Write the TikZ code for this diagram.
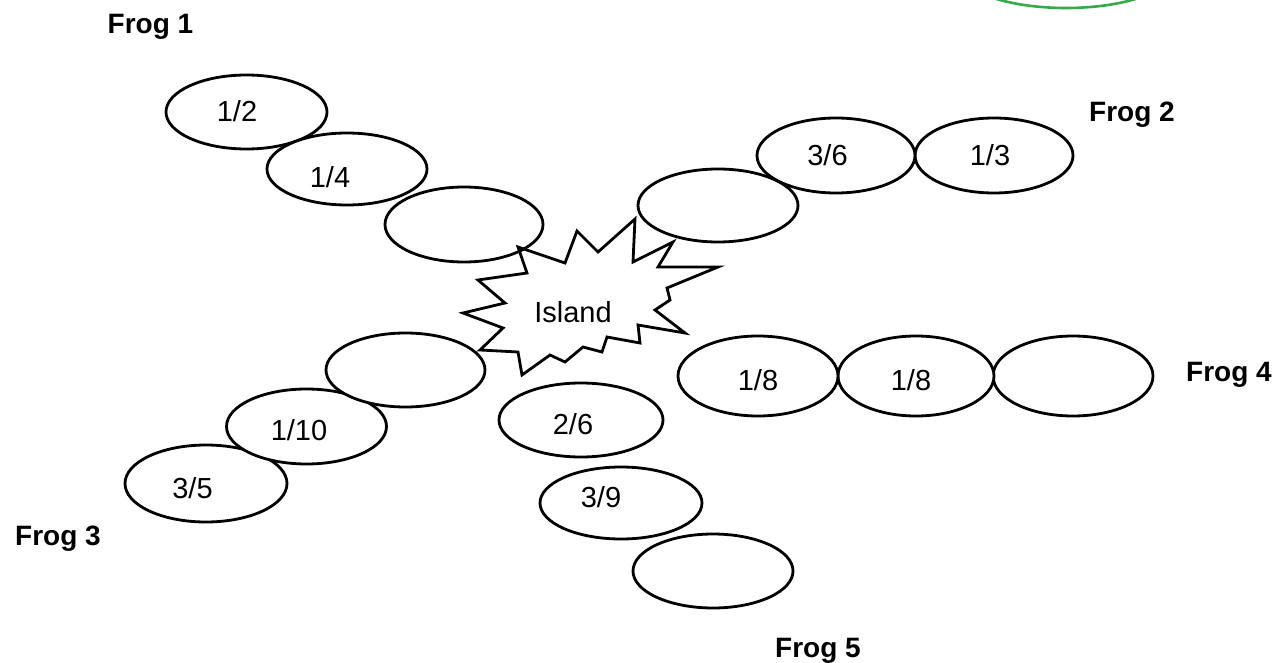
\documentclass[tikz,border=0pt]{standalone}
\usepackage{fontspec}
\setmainfont{Liberation Sans}
\usetikzlibrary{shapes.geometric}
\definecolor{arcgreen}{RGB}{52,170,72}
\tikzset{
  pad/.style={ellipse, draw=black, fill=white, line width=2.8pt, inner sep=0pt},
  frac/.style={anchor=base, inner sep=0pt, font=\fontsize{29}{34}\selectfont},
  froglbl/.style={anchor=base, inner sep=0pt, font=\fontsize{28}{34}\selectfont\bfseries},
}
\begin{document}
\begin{tikzpicture}[x=1pt,y=-1pt]
\useasboundingbox (0,0) rectangle (1284,663);
\clip (0,0) rectangle (1284,663);
\fill[white] (0,0) rectangle (1284,663);
% green arc at top
\draw[arcgreen, line width=2.6pt] (1066,-32) ellipse [x radius=110, y radius=40];
% Frog 1 chain
\node[pad, minimum width=161pt, minimum height=74pt] (e12) at (246.5,112) {};
\node[pad, minimum width=160pt, minimum height=72pt] (e14) at (347,169) {};
\node[pad, minimum width=158pt, minimum height=75pt] (e1e) at (464,224.5) {};
% Frog 2 chain
\node[pad, minimum width=158pt, minimum height=75pt] (e13) at (994,155.5) {};
\node[pad, minimum width=158pt, minimum height=75pt] (e36) at (836,155.5) {};
\node[pad, minimum width=160pt, minimum height=73pt] (e2e) at (718,205.5) {};
% Frog 4 chain
\node[pad, minimum width=160pt, minimum height=80pt] (e4e) at (1073,376) {};
\node[pad, minimum width=156pt, minimum height=80pt] (e8b) at (916,376) {};
\node[pad, minimum width=160pt, minimum height=80pt] (e8a) at (758,376) {};
% Frog 3 chain
\node[pad, minimum width=162pt, minimum height=77pt] (e35) at (206,483.5) {};
\node[pad, minimum width=160pt, minimum height=75pt] (e110) at (306.5,426.5) {};
\node[pad, minimum width=159pt, minimum height=74pt] (e3e) at (405.5,370) {};
% Frog 5 chain
\node[pad, minimum width=160pt, minimum height=74pt] (e5e) at (713,571) {};
\node[pad, minimum width=162pt, minimum height=72pt] (e39) at (621,503) {};
\node[pad, minimum width=164pt, minimum height=74pt] (e26) at (581,420) {};
% island star
\draw[line width=2.8pt, line join=miter]
  (518,247) -- (565,263) -- (577,231) -- (598,252) -- (635,219) -- (633,262)
  -- (673,242) -- (658,267) -- (718,267) -- (667,288) -- (670,300) -- (655,310)
  -- (685,333) -- (638,325) -- (640,343) -- (607,337) -- (602,352) -- (583,347)
  -- (565,362) -- (550,355) -- (522,375) -- (518,352) -- (480,350) -- (503,328)
  -- (463,313) -- (505,303) -- (478,280) -- (527,273) -- cycle;
\node[frac] (island) at (573,322) {Island};
% fractions
\node[frac] (t12) at (237,122) {1/2};
\node[frac] (t14) at (330,187) {1/4};
\node[frac] (t36) at (827.5,166) {3/6};
\node[frac] (t13) at (990,166) {1/3};
\node[frac] (t8a) at (758,390) {1/8};
\node[frac] (t8b) at (911,390) {1/8};
\node[frac] (t110) at (299,440) {1/10};
\node[frac] (t35) at (192.5,498) {3/5};
\node[frac] (t26) at (573,434) {2/6};
\node[frac] (t39) at (601,507) {3/9};
% frog labels
\node[froglbl] (f1) at (150.5,34) {Frog 1};
\node[froglbl] (f2) at (1132,122) {Frog 2};
\node[froglbl] (f3) at (58,545) {Frog 3};
\node[froglbl] (f4) at (1229,381) {Frog 4};
\node[froglbl] (f5) at (818,657) {Frog 5};
\end{tikzpicture}
\end{document}
